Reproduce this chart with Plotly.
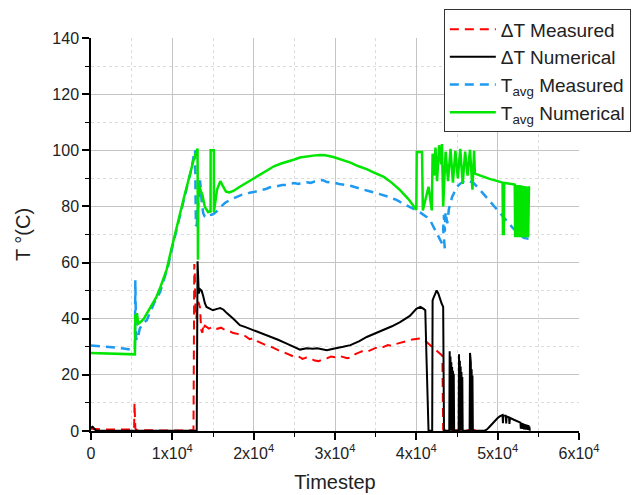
import plotly.graph_objects as go

# ---- ΔT Measured ----
dt_meas_x = [0, 1000, 2000, 3000, 4000, 5000, 5300, 5350, 5450, 5600, 7000, 9000, 11000, 12600,
             12700, 12750, 12850, 12950, 13050, 13200, 13400, 13550, 13700, 13800, 13900, 14000,
             14500, 15000, 15500, 16000, 16500, 17000, 17500, 18000, 18500, 19000, 19500, 20000,
             20500, 21000, 21500, 22000, 22500, 23000, 23500, 24000, 24500, 25000, 25500, 26000,
             26500, 27000, 27500, 28000, 28500, 29000, 29500, 30000, 30500, 31000, 31500, 32000,
             32500, 33000, 33500, 34000, 34500, 35000, 35500, 36000, 36500, 37000, 37500, 38000,
             38500, 39000, 39500, 40000, 40500, 41000, 41500, 42000, 42500, 43000, 43200, 43300,
             44000, 46000, 47500]
dt_meas_y = [0.8, 0.6, 0.5, 0.5, 0.5, 0.5, 0.5, 10.0, 1.0, 0.3, 0.2, 0.2, 0.2, 0.3,
             59.5, 58.0, 42.0, 40.0, 44.0, 46.0, 44.0, 36.0, 35.0, 38.0, 37.0, 37.5,
             36.5, 37.2, 36.4, 36.8, 35.9, 35.6, 34.9, 34.6, 34.0, 33.8, 32.7, 33.1,
             31.9, 31.2, 30.6, 30.2, 29.4, 28.8, 28.3, 27.6, 27.1, 26.4, 26.6, 25.7,
             26.2, 25.8, 25.1, 24.9, 25.6, 25.9, 26.5, 26.3, 26.8, 26.4, 25.9, 26.2,
             27.4, 28.0, 28.6, 28.3, 29.1, 29.6, 29.4, 30.1, 30.6, 30.3, 31.0, 31.4,
             31.9, 32.2, 32.6, 32.9, 33.0, 32.4, 31.0, 29.8, 28.6, 27.4, 26.8, 0.5,
             0.3, 0.3, 0.3]

# ---- ΔT Numerical ----
dt_num_x = [0, 200, 400, 600, 3000, 6000, 9000, 12000, 13000, 13100, 13150, 13250, 13400, 13600,
            13800, 14000, 14200, 14600, 15000, 15500, 15900, 16300, 16700, 17500, 18300, 19000,
            20000, 21000, 22000, 23000, 24000, 25000, 25700, 26500, 27300, 27800, 28500, 29000,
            29800, 30500, 31000, 31900, 33000, 33900, 35000, 36000, 37000, 38000, 39200, 40000,
            40500, 40900, 41100, 41250, 41350, 41500, 41950, 42000, 42100, 42300, 42500, 42700,
            42900, 43100, 43300, 43400, 44050,
            44100, 44150, 44200, 44250, 44300, 44350, 44400, 44450, 44500, 44550, 44600, 44650,
            45200, 45250, 45300, 45350, 45400, 45450, 45500, 45550, 45600, 45650, 45700,
            46550, 46600, 46700, 46750, 46800, 46850, 46900, 46950,
            48400, 48700, 49000, 49500, 50000, 50300, 50600, 50650, 50700, 51000, 51050, 51100,
            51400, 51450, 51500, 52000, 52500, 52800, 52850, 52900, 52950, 53000, 53050, 53100,
            53150, 53200, 53250, 53300, 53350, 53400, 53450, 53500, 53550, 53600, 53650, 53700,
            53750, 53800, 53850, 53900, 53950]
dt_num_y = [1.2, 1.5, 0.8, 0.2, 0.1, 0.1, 0.1, 0.1, 0.1, 60.5, 55.0, 49.0, 50.5, 50.0,
            48.0, 45.5, 44.2, 43.5, 43.0, 43.5, 43.8, 43.2, 42.0, 40.0, 37.7, 37.0,
            35.9, 34.8, 33.6, 32.5, 31.2, 30.0, 29.0, 29.5, 29.3, 29.5, 29.0, 28.8,
            29.3, 29.6, 30.0, 30.6, 32.0, 33.5, 34.8, 35.9, 37.3, 38.8, 41.0, 43.5,
            44.2, 43.5, 43.0, 26.0, 10.0, 0.1, 0.1, 46.5, 47.3, 48.5, 50.1, 49.0,
            47.0, 45.5, 44.2, 0.1, 0.1,
            28.4, 0.1, 26.5, 0.1, 24.5, 0.1, 22.8, 0.1, 21.5, 0.1, 20.4, 0.1,
            0.1, 27.3, 0.1, 25.0, 0.1, 23.0, 0.1, 21.0, 0.1, 19.2, 0.1,
            0.1, 27.8, 24.5, 0.1, 22.0, 0.1, 19.8, 0.1,
            0.1, 0.6, 1.5, 3.2, 4.6, 5.3, 5.7, 2.8, 5.6, 5.4, 2.7, 5.2,
            4.8, 2.5, 4.7, 4.0, 3.4, 3.0, 0.8, 2.9, 0.8, 2.8, 0.7, 2.7,
            0.7, 2.6, 0.6, 2.5, 0.6, 2.4, 0.5, 2.3, 0.5, 2.2, 0.5, 2.1,
            0.4, 2.0, 0.4, 1.6, 0.1]

# ---- T_avg Measured ----
tavg_meas_x = [0, 1000, 2000, 3000, 4000, 5000, 5400, 5450, 5550, 5700, 6000, 6400, 6850, 7300,
               7800, 8500, 9000, 9500, 10000, 10500, 11150, 11800, 12400, 12700, 12800, 12850,
               12900, 13000, 13150, 13300, 13400, 13500, 13600, 13800, 14000, 14200, 14500, 15000,
               15300, 15600, 16000, 16500, 17000, 17500, 18000, 18500, 19000, 19500, 20000, 20500,
               21000, 21500, 22000, 22500, 23000, 23500, 24000, 24500, 25000, 25500, 26000, 26500,
               27000, 27500, 28000, 28500, 29000, 29500, 30000, 30500, 31000, 31500, 32000, 32500,
               33000, 33500, 34000, 34500, 35000, 35500, 36000, 36500, 37000, 37500, 38000, 38500,
               39000, 39500, 40000, 40500, 41300, 41800, 42300, 42800, 43300, 43500, 43300, 43400,
               43500, 43600, 43800, 44000, 44400, 45000, 45400, 46000, 46500, 47000, 47800, 49000,
               50700, 51900, 53200, 53800]
tavg_meas_y = [30.5, 30.3, 30.0, 29.7, 29.4, 29.1, 28.8, 53.7, 33.0, 32.3, 36.5, 38.5, 39.4, 42.5,
               45.8, 49.5, 54.0, 59.0, 65.5, 71.5, 78.6, 86.0, 94.0, 99.4, 100.0, 85.0,
               73.0, 73.5, 79.0, 87.0, 89.3, 86.5, 82.0, 77.5, 76.4, 76.0, 76.8, 77.2,
               77.8, 78.6, 80.0, 81.3, 82.2, 82.9, 83.6, 84.1, 84.3, 84.9, 85.1, 85.6,
               85.9, 86.2, 86.8, 86.9, 87.3, 87.6, 87.6, 88.1, 88.3, 88.0, 88.5, 88.6,
               88.4, 88.9, 89.0, 89.4, 88.7, 88.6, 88.4, 88.0, 87.9, 87.6, 87.3, 86.8,
               86.4, 86.0, 85.6, 85.3, 84.8, 84.4, 84.0, 83.5, 82.9, 82.4, 81.6, 80.9,
               80.2, 79.5, 78.6, 77.8, 76.2, 74.5, 71.5, 68.5, 66.0, 65.0, 72.0, 77.0,
               71.0, 78.0, 74.0, 79.0, 83.4, 87.0, 88.1, 89.3, 89.0, 88.5, 86.0, 82.0,
               76.5, 72.2, 68.8, 68.5]

# ---- T_avg Numerical ----
tavg_num_x = [0, 2000, 4000, 5400, 5450, 5550, 5650, 5800, 6100, 6500, 7300, 8000, 8500, 9300,
              9900, 10500, 10950, 11500, 12000, 12600, 13100, 13150, 13200, 13500, 13700, 14000,
              14400, 14700, 14710, 15100, 15110, 15500, 15900, 16200, 16600, 17000, 17500, 18300,
              19000, 19600, 20000, 20800, 21600, 22500, 23300, 24100, 25000, 25700, 26500, 27300,
              28200, 28800, 29800, 30700, 31900, 32900, 33900, 34800, 36000, 37000, 38000, 39000,
              40000, 40050, 40700, 40800, 41500, 41900, 42000, 42200, 42350, 42550, 42800, 43050,
              43150, 43300, 43600, 43900, 44200, 44500, 44800, 45100, 45400, 45700, 46000, 46300,
              46600, 46900, 47100, 47200, 48000, 49000, 50000, 50600, 50650, 50700, 50750, 50800,
              51500, 52100,
              52150, 52250, 52350, 52450, 52550, 52650, 52750, 52850, 52950, 53050, 53150, 53250,
              53350, 53450, 53550, 53650, 53750, 53850, 53900]
tavg_num_y = [27.8, 27.6, 27.4, 27.3, 41.5, 38.5, 42.0, 38.2, 38.8, 40.0, 44.0, 47.5, 51.0, 57.5,
              65.0, 72.5, 77.4, 84.0, 89.5, 96.4, 100.6, 61.0, 88.0, 85.5, 84.0, 79.8,
              78.0, 78.2, 100.0, 100.0, 78.0, 86.0, 89.0, 87.3, 85.3, 85.0, 85.5, 87.0,
              88.2, 89.3, 89.9, 91.4, 92.9, 94.3, 95.2, 95.8, 96.7, 97.4, 97.8, 98.1,
              98.3, 98.2, 97.6, 96.7, 95.6, 94.3, 93.3, 92.0, 90.5, 88.4, 85.8, 82.7,
              78.8, 99.4, 99.4, 78.6, 87.0, 78.6, 98.8, 91.0, 101.0, 89.0, 101.8, 95.0,
              102.2, 80.0, 99.5, 89.0, 100.5, 88.5, 99.8, 90.0, 100.5, 88.0, 99.5, 91.0,
              100.2, 86.0, 99.8, 91.7, 90.8, 89.8, 89.0, 88.5, 69.7, 88.5, 69.7, 88.4,
              88.1, 87.8,
              69.0, 87.7, 69.0, 87.6, 69.0, 87.6, 69.0, 87.5, 69.0, 87.4, 69.0, 87.3,
              69.0, 87.2, 69.0, 87.1, 69.0, 87.0, 86.9]

x_tick_vals = [0, 10000, 20000, 30000, 40000, 50000, 60000]
x_tick_text = ["0", "1x10<sup>4</sup>", "2x10<sup>4</sup>", "3x10<sup>4</sup>",
               "4x10<sup>4</sup>", "5x10<sup>4</sup>", "6x10<sup>4</sup>"]
y_tick_vals = [0, 20, 40, 60, 80, 100, 120, 140]

FONT = "Arial, Liberation Sans, sans-serif"
TXT = "#222222"

fig = go.Figure()
fig.add_trace(go.Scatter(x=dt_meas_x, y=dt_meas_y, mode="lines", name="ΔT Measured",
                         line=dict(color="#ff0000", width=2, dash="9px,6px")))
fig.add_trace(go.Scatter(x=dt_num_x, y=dt_num_y, mode="lines", name="ΔT Numerical",
                         line=dict(color="#000000", width=2)))
fig.add_trace(go.Scatter(x=tavg_meas_x, y=tavg_meas_y, mode="lines", name="T<sub>avg</sub> Measured",
                         line=dict(color="#1e9bf0", width=2.5, dash="9px,6px")))
fig.add_trace(go.Scatter(x=tavg_num_x, y=tavg_num_y, mode="lines", name="T<sub>avg</sub> Numerical",
                         line=dict(color="#00e600", width=2.5)))

axis_common = dict(
    showline=True, linecolor="#000000", linewidth=1.5,
    ticks="outside", tickcolor="#000000", tickwidth=1.5, ticklen=7,
    showgrid=True, gridcolor="#c4c4c4", gridwidth=1,
    zeroline=False, automargin=False,
    tickfont=dict(family=FONT, size=16, color=TXT),
    minor=dict(ticks="outside", ticklen=4, tickcolor="#000000", tickwidth=1.2,
               showgrid=True, gridcolor="#dcdcdc", griddash="dot", gridwidth=1),
)

fig.update_xaxes(range=[0, 60000], tickvals=x_tick_vals, ticktext=x_tick_text,
                 title=dict(text="Timestep", font=dict(family=FONT, size=20, color=TXT), standoff=14),
                 **axis_common)
fig.update_xaxes(minor_dtick=5000)
fig.update_yaxes(range=[0, 140], tickvals=y_tick_vals,
                 title=dict(text="T °(C)", font=dict(family=FONT, size=20, color=TXT), standoff=16),
                 **axis_common)
fig.update_yaxes(minor_dtick=10)

fig.update_layout(
    width=635, height=495,
    margin=dict(l=91, r=56, t=38, b=64, autoexpand=False),
    plot_bgcolor="white", paper_bgcolor="white",
    font=dict(family=FONT, color=TXT),
    legend=dict(x=0.723, y=1.073, xanchor="left", yanchor="top",
                bgcolor="white", bordercolor="#333333", borderwidth=1,
                font=dict(family=FONT, size=19, color=TXT),
                tracegroupgap=0, itemwidth=46),
)

fig.write_html("out.html")
